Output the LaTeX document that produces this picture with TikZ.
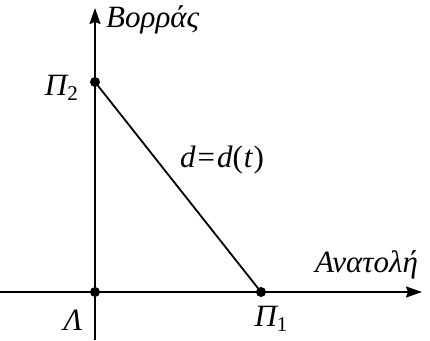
\documentclass[tikz,border=0pt]{standalone}
\usepackage{fontspec}
\setmainfont{Liberation Serif}
\usetikzlibrary{arrows.meta}
\newcommand\lowsub[1]{\raisebox{-0.35ex}{\fontsize{21}{21}\selectfont\upshape #1}}
\begin{document}
\begin{tikzpicture}[x=1pt,y=1pt,
  axis/.style={line width=1.8pt,-{Stealth[length=16pt,width=11pt,inset=2pt]}},
  seg/.style={line width=1.8pt},
  dot/.style={circle,fill=black,inner sep=0pt,minimum size=10pt},
  lab/.style={font=\fontsize{31}{31}\selectfont\itshape,inner sep=0pt}]
\useasboundingbox (0,0) rectangle (430,340);
\fill[white] (0,0) rectangle (430,340);
\coordinate (xs) at (0,48);
\coordinate (xe) at (422,48);
\coordinate (ys) at (95,0);
\coordinate (ye) at (95,332);
\draw[axis] (xs) -- (xe);
\draw[axis] (ys) -- (ye);
\node[dot] (L) at (95,48) {};
\node[dot] (P1) at (261,48) {};
\node[dot] (P2) at (95,258) {};
\draw[seg] (P2.center) -- (P1.center);
\node[lab,anchor=west] (nb) at (106,320) {Βορράς};
\node[lab,anchor=east] (np2) at (78,252) {Π\lowsub{2}};
\node[lab] (nd) at (222,180) {d\kern2pt{\upshape=}\kern2pt d{\upshape(}\kern1pt t\kern1pt{\upshape)}};
\node[lab,anchor=west] (na) at (315,75) {Ανατολή};
\node[lab] (nl) at (73,20) {Λ};
\node[lab] (np1) at (271,21) {Π\lowsub{1}};
\end{tikzpicture}
\end{document}
